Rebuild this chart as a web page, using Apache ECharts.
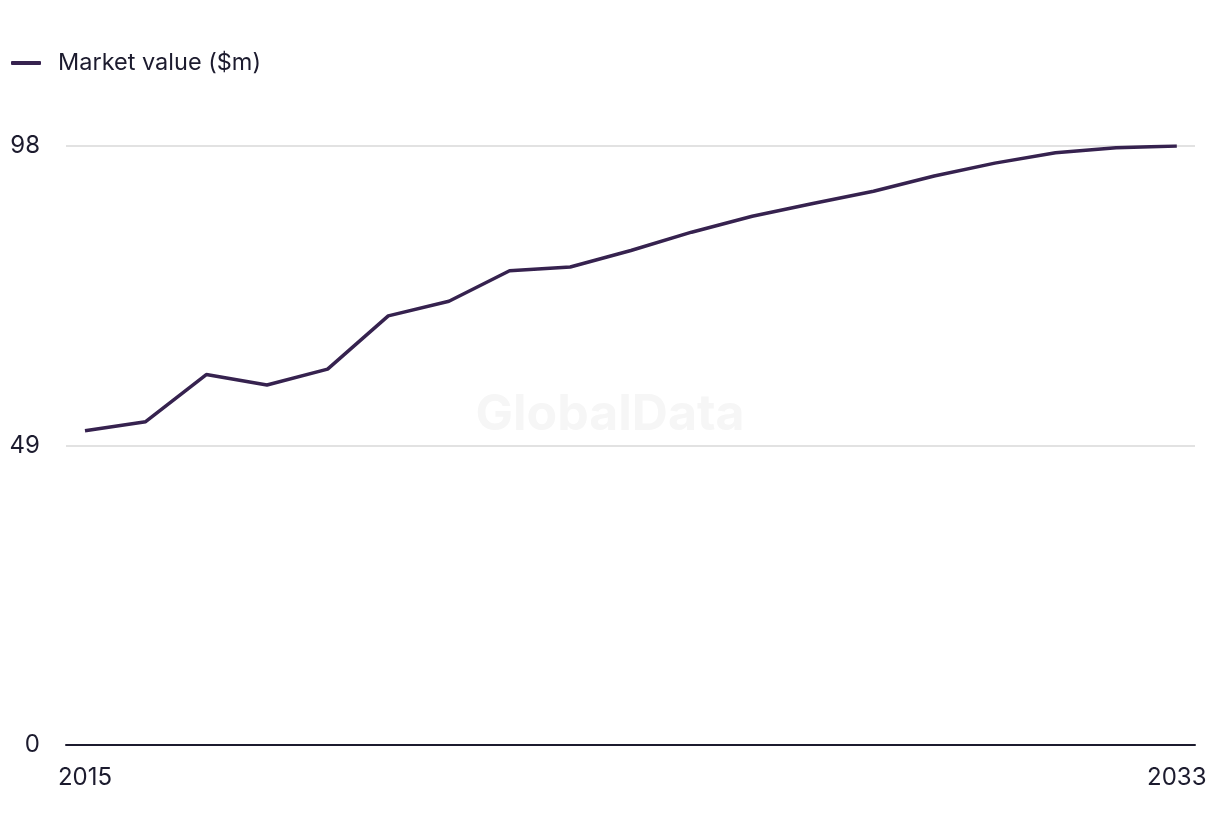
<!DOCTYPE html>
<html>
<head>
<meta charset="utf-8">
<script src="https://cdn.jsdelivr.net/npm/echarts@6/dist/echarts.min.js"></script>
<style>html,body{margin:0;padding:0;background:#fff;}#c{width:1220px;height:836px;}</style>
</head>
<body>
<div id="c"></div>
<script>
const years = [2015,2016,2017,2018,2019,2020,2021,2022,2023,2024,2025,2026,2027,2028,2029,2030,2031,2032,2033];
const marketValue = [51.4,52.9,60.6,58.9,61.5,70.2,72.6,77.6,78.2,80.9,83.9,86.5,88.6,90.6,93.1,95.2,96.9,97.7,98.0];
const xTickLabels = [2015, 2033];
const yTicks = [0, 49, 98];
const seriesName = 'Market value ($m)';

const font = 'Inter, "Noto Sans", sans-serif';
const chart = echarts.init(document.getElementById('c'));
chart.setOption({
  animation: false,
  textStyle: {fontFamily: font},
  legend: {
    show: true, left: 6, top: 46,
    itemWidth: 30, itemHeight: 4, itemGap: 10,
    icon: 'roundRect',
    itemStyle: {color: '#36224f', borderWidth: 0},
    textStyle: {fontSize: 23.5, color: '#1c1b2e', fontFamily: font, padding: [0,0,0,12]},
    data: [seriesName]
  },
  graphic: [{
    type: 'text', left: 'center', top: 390, z: 0,
    style: {text: 'GlobalData', font: 'bold 50px ' + font, fill: '#f6f6f6'}
  }],
  grid: {left: 66, right: 25, top: 146, bottom: 91, containLabel: false},
  xAxis: {
    type: 'value', min: 2014.687, max: 2033.3,
    axisLine: {show: true, lineStyle: {color: '#1c1b2e', width: 2}},
    axisTick: {show: false},
    splitLine: {show: false},
    axisLabel: {customValues: xTickLabels, fontSize: 24, color: '#1c1b2e', margin: 21, fontFamily: font, formatter: v => String(v)}
  },
  yAxis: {
    type: 'value', min: 0, max: 98, interval: 49,
    axisLine: {show: false}, axisTick: {show: false},
    splitLine: {lineStyle: {color: '#d9d9d9', width: 1.5}},
    axisLabel: {fontSize: 24, color: '#1c1b2e', margin: 26, fontFamily: font}
  },
  series: [{
    name: seriesName, type: 'line',
    data: years.map((y, i) => [y, marketValue[i]]),
    showSymbol: false, symbol: 'none',
    lineStyle: {color: '#36224f', width: 3.5},
    itemStyle: {color: '#36224f'},
    z: 3
  }]
});
</script>
</body>
</html>
